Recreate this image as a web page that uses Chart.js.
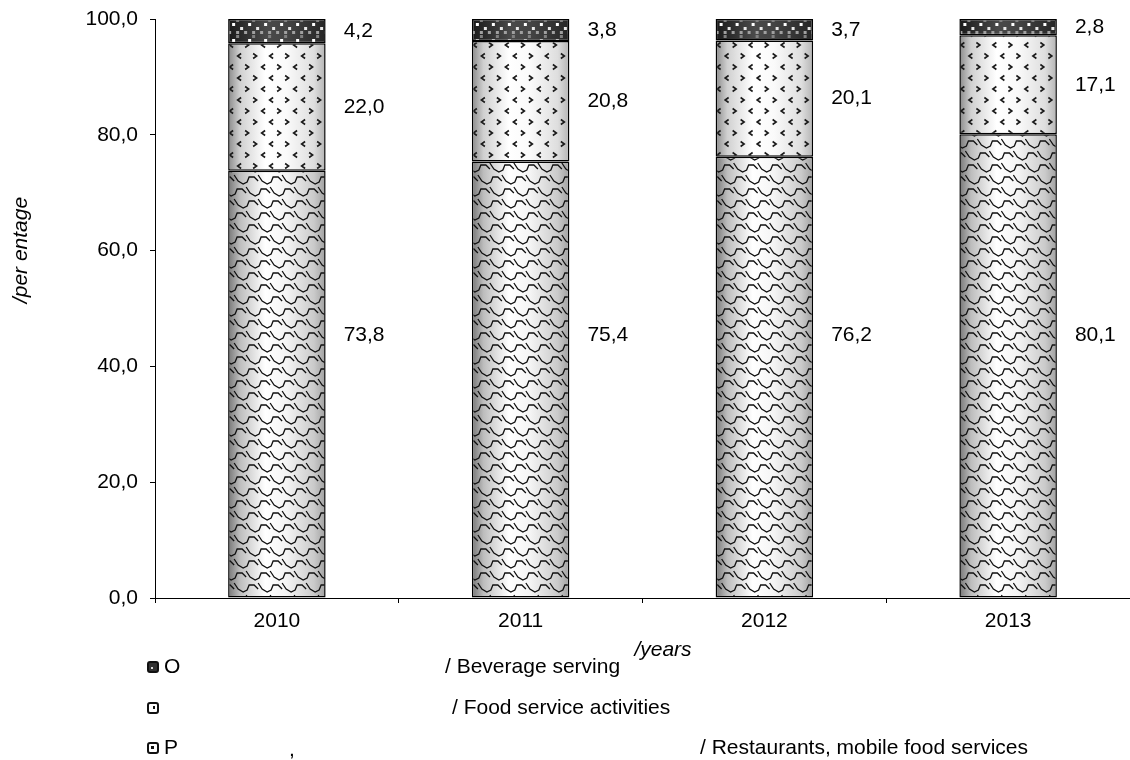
<!DOCTYPE html>
<html>
<head>
<meta charset="utf-8">
<script src="https://cdn.jsdelivr.net/npm/chart.js@4/dist/chart.umd.min.js"></script>
<style>
  html, body { margin: 0; padding: 0; background: #fff; }
  #wrap { width: 1130px; height: 760px; }
</style>
</head>
<body>
<div id="wrap"><canvas id="myChart"></canvas></div>
<script>
// data
const years = ['2010', '2011', '2012', '2013'];
const restaurants = [73.8, 75.4, 76.2, 80.1];
const foodService = [22.0, 20.8, 20.1, 17.1];
const beverage = [4.2, 3.8, 3.7, 2.8];
const yTicks = [0, 20, 40, 60, 80, 100];

const FONT = '"Liberation Sans", Arial, sans-serif';
const FS = 21;
const fmt = v => v.toFixed(1).replace('.', ',');

// pattern canvases, built once the scales exist (cover the whole chart)
let patCache = {};
function barSpans(chart) {
    const xs = chart.scales.x;
    const catW = (xs.right - xs.left) / years.length;
    const bw = catW * 0.4;
    return years.map((_, i) => {
        const c = xs.getPixelForValue(i);
        return [c - bw / 2, c + bw / 2];
    });
}

function shade(g, x0, x1, stops) {
    const gr = g.createLinearGradient(x0, 0, x1, 0);
    stops.forEach(s => gr.addColorStop(s[0], s[1]));
    return gr;
}

function makePattern(chart, kind) {
    const key = kind + ':' + chart.width + 'x' + chart.height + ':' + chart.chartArea.left + ':' + chart.chartArea.top;
    if (patCache[key]) return patCache[key];
    const cv = document.createElement('canvas');
    cv.width = chart.width;
    cv.height = chart.height;
    const g = cv.getContext('2d');
    const spans = barSpans(chart);
    const top = chart.chartArea.top;
    const bottom = chart.chartArea.bottom;

    spans.forEach(([x0, x1]) => {
        g.save();
        g.beginPath();
        g.rect(x0, 0, x1 - x0, cv.height);
        g.clip();
        if (kind === 'scales') {
            g.fillStyle = shade(g, x0, x1, [[0, '#767676'], [0.12, '#bdbdbd'], [0.38, '#ffffff'], [0.6, '#f4f4f4'], [0.88, '#cacaca'], [1, '#a0a0a0']]);
            g.fillRect(x0, 0, x1 - x0, cv.height);
            g.strokeStyle = '#111';
            g.lineWidth = 1.3;
            const dx = 24, dy = 12;
            let row = 0;
            for (let y = top - 24; y < bottom + 24; y += dy, row++) {
                const off = (row % 2) * dx / 2;
                for (let x = x0 - 30 + off; x < x1 + 30; x += dx) {
                    g.beginPath();
                    g.moveTo(x, y);
                    g.lineTo(x + 4, y + 6);
                    g.lineTo(x + 9, y + 9);
                    g.lineTo(x + 13, y + 7);
                    g.lineTo(x + 15, y + 2);
                    g.lineTo(x + 20, y + 2);
                    g.lineTo(x + 24, y + 6);
                    g.stroke();
                }
            }
        } else if (kind === 'dots') {
            g.fillStyle = shade(g, x0, x1, [[0, '#8a8a8a'], [0.12, '#d0d0d0'], [0.38, '#ffffff'], [0.6, '#fafafa'], [0.88, '#dedede'], [1, '#b4b4b4']]);
            g.fillRect(x0, 0, x1 - x0, cv.height);
            g.strokeStyle = '#1a1a1a';
            g.lineWidth = 1.6;
            const dx = 16, dy = 11;
            let row = 0;
            for (let y = top + 4; y < bottom; y += dy, row++) {
                const off = (row % 2) * dx / 2;
                for (let x = x0 + 3 + off; x < x1; x += dx) {
                    const dir = ((Math.round((x - x0) / dx) + row) % 2) ? 1 : -1;
                    g.beginPath();
                    g.moveTo(x - 2 * dir, y - 2.5);
                    g.lineTo(x + 1.5 * dir, y);
                    g.lineTo(x - 2 * dir, y + 2.5);
                    g.stroke();
                }
            }
        } else {
            g.fillStyle = shade(g, x0, x1, [[0, '#1a1a1a'], [0.4, '#4a4a4a'], [0.6, '#444444'], [1, '#262626']]);
            g.fillRect(x0, 0, x1 - x0, cv.height);
            const s = 4;
            for (let y = top; y < bottom; y += s) {
                const r = Math.round((y - top) / s);
                for (let x = x0; x < x1; x += s) {
                    const c = Math.round((x - x0) / s);
                    let col = null;
                    if (r % 4 === 1 && c % 4 === 1) col = '#ffffff';
                    else if (r % 4 === 2 && c % 4 === 3) col = '#e8e8e8';
                    else if (r % 4 === 3 && c % 2 === 0) col = '#a0a0a0';
                    else if (r % 4 === 0 && c % 4 === 2) col = '#808080';
                    if (col) { g.fillStyle = col; g.fillRect(x, y, s - 1, s - 1); }
                }
            }
        }
        g.restore();
    });
    patCache[key] = g.createPattern(cv, 'no-repeat');
    return patCache[key];
}

function fillFor(kind, fallback) {
    return ctx => {
        const chart = ctx.chart;
        if (!chart.chartArea || !chart.scales.x) return fallback;
        return makePattern(chart, kind);
    };
}

// value labels beside each bar
const valueLabels = {
    id: 'valueLabels',
    afterDatasetsDraw(chart) {
        const g = chart.ctx;
        const ys = chart.scales.y;
        g.save();
        g.font = FS + 'px ' + FONT;
        g.fillStyle = '#000';
        g.textAlign = 'left';
        g.textBaseline = 'middle';
        chart.data.datasets.forEach((ds, di) => {
            const meta = chart.getDatasetMeta(di);
            meta.data.forEach((el, i) => {
                const x = el.x + el.width / 2 + 18;
                const y = di === 0 ? ys.getPixelForValue(45.4) : (el.y + el.base) / 2;
                g.fillText(fmt(ds.data[i]), x, y);
            });
        });
        g.restore();
    }
};

// axis titles and the legend under the chart
const extras = {
    id: 'extras',
    afterDraw(chart) {
        const g = chart.ctx;
        g.save();
        g.fillStyle = '#000';
        g.font = 'italic ' + FS + 'px ' + FONT;
        g.textBaseline = 'middle';
        g.textAlign = 'center';
        g.save();
        g.translate(21, 250);
        g.rotate(-Math.PI / 2);
        g.fillText('/per entage', 0, 0);
        g.restore();
        g.fillText('/years', 663, 650);

        const rows = [
            { y: 667, kind: 'bev', left: 'O', mid: null, right: '/ Beverage serving', rx: 445 },
            { y: 708, kind: 'food', left: '', mid: null, right: '/ Food service activities', rx: 452 },
            { y: 748, kind: 'rest', left: 'P', mid: ',', right: '/ Restaurants, mobile food services', rx: 700 }
        ];
        g.font = FS + 'px ' + FONT;
        g.textAlign = 'left';
        rows.forEach(r => {
            const bx = 148, by = r.y - 5, bs = 10;
            g.beginPath();
            g.roundRect(bx, by, bs, bs, 2);
            g.fillStyle = r.kind === 'bev' ? '#333' : '#fff';
            g.fill();
            g.lineWidth = 2;
            g.strokeStyle = '#111';
            g.stroke();
            g.fillStyle = r.kind === 'bev' ? '#ddd' : '#111';
            if (r.kind === 'bev') g.fillRect(bx + 3, by + 5, 2, 2);
            if (r.kind === 'food') g.fillRect(bx + 5, by + 3, 2, 3);
            if (r.kind === 'rest') g.fillRect(bx + 3, by + 3, 3, 3);
            g.fillStyle = '#000';
            if (r.left) g.fillText(r.left, 164, r.y);
            if (r.mid) g.fillText(r.mid, 289, r.y + 2);
            g.fillText(r.right, r.rx, r.y);
        });
        g.restore();
    }
};

const ctx = document.getElementById('myChart').getContext('2d');
const myChart = new Chart(ctx, {
    type: 'bar',
    data: {
        labels: years,
        datasets: [{
            label: 'Restaurants, mobile food services',
            data: restaurants,
            backgroundColor: fillFor('scales', '#eee'),
            borderColor: '#000',
            borderWidth: 1.5,
            borderSkipped: false
        }, {
            label: 'Food service activities',
            data: foodService,
            backgroundColor: fillFor('dots', '#f4f4f4'),
            borderColor: '#000',
            borderWidth: 1.5,
            borderSkipped: false
        }, {
            label: 'Beverage serving',
            data: beverage,
            backgroundColor: fillFor('bev', '#333'),
            borderColor: '#000',
            borderWidth: 1.5,
            borderSkipped: false
        }]
    },
    options: {
        responsive: true,
        maintainAspectRatio: false,
        animation: false,
        datasets: { bar: { barPercentage: 0.4, categoryPercentage: 1.0 } },
        layout: { padding: { top: 19, right: -5, left: 0, bottom: 0 } },
        plugins: {
            legend: { display: false },
            tooltip: { enabled: false }
        },
        scales: {
            x: {
                stacked: true,
                grid: { display: true, drawOnChartArea: false, drawTicks: true, tickLength: 5, color: '#000', offset: true },
                border: { display: true, color: '#000', width: 1 },
                ticks: { color: '#000', font: { family: FONT, size: FS }, padding: 6, maxRotation: 0 },
                afterFit: s => { s.height = 162; }
            },
            y: {
                stacked: true,
                min: 0,
                max: 100,
                afterBuildTicks: s => { s.ticks = yTicks.map(v => ({ value: v })); },
                grid: { display: true, drawOnChartArea: false, drawTicks: true, tickLength: 5, color: '#000' },
                border: { display: true, color: '#000', width: 1 },
                ticks: { color: '#000', font: { family: FONT, size: FS }, padding: 12, callback: v => fmt(v) },
                afterFit: s => { s.width = 155; s.paddingTop = 0; s.paddingBottom = 0; }
            }
        }
    },
    plugins: [valueLabels, extras]
});
</script>
</body>
</html>
